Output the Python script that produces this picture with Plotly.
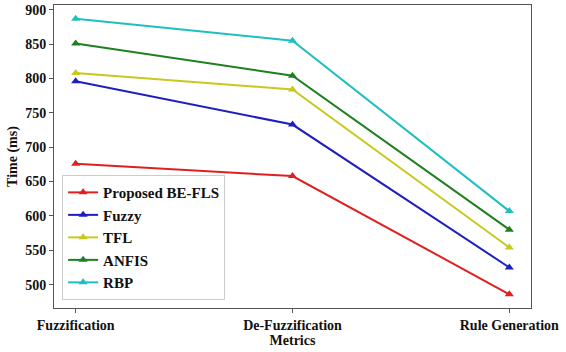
import plotly.graph_objects as go

categories = ["Fuzzification", "De-Fuzzification", "Rule Generation"]
series_names = ["Proposed BE-FLS", "Fuzzy", "TFL", "ANFIS", "RBP"]
proposed = [676, 658, 486]
fuzzy = [796, 733, 525]
tfl = [808, 784, 554]
anfis = [851, 804, 580]
rbp = [887, 855, 607]
colors = ["#e02020", "#1f1fbf", "#c8c81e", "#1e801e", "#1fbfc0"]

values = [proposed, fuzzy, tfl, anfis, rbp]
x_idx = list(range(len(categories)))

fig = go.Figure()
for name, vals, col in zip(series_names, values, colors):
    fig.add_trace(go.Scatter(
        x=x_idx, y=vals, mode="lines+markers", name=name,
        line=dict(color=col, width=2),
        marker=dict(symbol="triangle-up", size=8, color=col),
    ))

font_family = "Liberation Serif"
fig.update_layout(
    width=566, height=352,
    margin=dict(l=54, r=35, t=3, b=44),
    paper_bgcolor="white", plot_bgcolor="white",
    font=dict(family=font_family, size=14, color="#111", weight="bold"),
    showlegend=True,
    legend=dict(
        x=0.017, y=0.026, xanchor="left", yanchor="bottom",
        bordercolor="#cccccc", borderwidth=1, bgcolor="white",
        font=dict(family=font_family, size=15, color="#111", weight="bold"),
        tracegroupgap=0, itemwidth=30,
    ),
)
fig.update_xaxes(
    range=[-0.1, 2.1], tickvals=x_idx, ticktext=categories,
    showgrid=False, zeroline=False,
    showline=True, linecolor="#555", linewidth=1, mirror=True,
    ticks="outside", ticklen=4, tickcolor="#555",
    title=dict(text="Metrics", standoff=1, font=dict(family=font_family, size=14, weight="bold")),
)
fig.update_yaxes(
    range=[466, 907], tickvals=[500, 550, 600, 650, 700, 750, 800, 850, 900],
    showgrid=False, zeroline=False,
    showline=True, linecolor="#555", linewidth=1, mirror=True,
    ticks="outside", ticklen=4, tickcolor="#555",
    title=dict(text="Time (ms)", standoff=4, font=dict(family=font_family, size=14, weight="bold")),
)
fig.write_html("out.html")
